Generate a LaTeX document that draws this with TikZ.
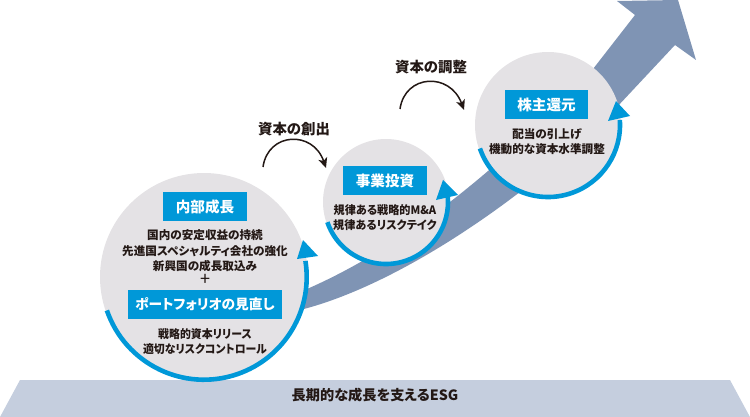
\documentclass[tikz,border=0pt]{standalone}
\usepackage{fontspec}
\usetikzlibrary{arrows.meta}
\newfontfamily\jp{Noto Sans CJK JP}[RawFeature=+palt]
\definecolor{bluemain}{HTML}{0098D8}
\definecolor{bandc}{HTML}{7F94B4}
\definecolor{basec}{HTML}{C5CEDE}
\definecolor{circc}{HTML}{E4E2E5}
\definecolor{inkc}{HTML}{231815}
\tikzset{
  disc/.style={circle,fill=circc,inner sep=0pt,minimum size=#1},
  tagbox/.style={fill=bluemain,text=white,inner sep=0pt,font=\jp\bfseries\fontsize{14.6}{15}\selectfont,minimum height=29pt},
  bodytext/.style={text=inkc,align=center,inner sep=0pt,font=\jp\bfseries\fontsize{11.6}{15.5}\selectfont},
  loopline/.style={draw=bluemain,line width=4.6pt},
  loophead/.style={fill=bluemain},
  bendline/.style={draw=inkc,line width=1.5pt,-{Stealth[length=10pt,width=9pt,inset=2.5pt]}},
  captext/.style={text=inkc,inner sep=0pt,font=\jp\bfseries\fontsize{14.4}{15}\selectfont}
}
\begin{document}
\begin{tikzpicture}[x=1pt,y=-1pt]
\useasboundingbox (0,0) rectangle (750,417);
% base
\fill[basec] (20,380) -- (730,380) -- (750,417) -- (0,417) -- cycle;
\node[text=inkc,inner sep=0pt,font=\jp\bfseries\fontsize{14.2}{15}\selectfont] (esg) at (375,395.5) {長期的な成長を支えるESG};
% growth arrow
\fill[bandc] (300,292) .. controls (400,250) and (500,170) .. (593,69)
  -- (635,15) -- (617,1) -- (678,0) -- (696,60) -- (675,45) -- (617,107)
  .. controls (530,195) and (400,285) .. (300,310) -- cycle;
% discs
\node[disc=208pt] (c1) at (204,277) {};
\node[disc=126pt] (c2) at (386,202) {};
\node[disc=146pt] (c3) at (548,125) {};
% loops
\draw[loopline] (c1.center) ++(161:102.7) arc[start angle=161,end angle=-9,radius=102.7];
\fill[loophead] (303,240) -- (318,256) -- (297,259) -- cycle;
\draw[loopline] (c2.center) ++(161:62) arc[start angle=161,end angle=-5,radius=62];
\fill[loophead] (443,180) -- (458,195) -- (436,200) -- cycle;
\draw[loopline] (c3.center) ++(161:72) arc[start angle=161,end angle=-4,radius=72];
\fill[loophead] (616,101) -- (630,116) -- (608,121) -- cycle;
% tags
\node[tagbox,minimum width=84pt] (t1) at (205,206.5) {内部成長};
\node[bodytext] (b1) at (205,251) {国内の安定収益の持続\\先進国スペシャルティ会社の強化\\新興国の成長取込み};
\node[text=inkc,inner sep=0pt,font=\jp\fontsize{18}{18}\selectfont] (plus) at (205,280) {+};
\node[tagbox,minimum width=154pt,font=\jp\bfseries\fontsize{13.7}{14}\selectfont] (t2) at (205,304.5) {ポートフォリオの見直し};
\node[bodytext,xscale=.94] (b2) at (205,341.5) {戦略的資本リリース\\適切なリスクコントロール};
\node[tagbox,minimum width=84pt] (t3) at (385,181) {事業投資};
\node[bodytext,xscale=.96] (b3) at (385,217.5) {規律ある戦略的M\&A\\規律あるリスクテイク};
\node[tagbox,minimum width=83pt] (t4) at (546.5,104.5) {株主還元};
\node[bodytext] (b4) at (547,141.5) {配当の引上げ\\機動的な資本水準調整};
% curved arrows
\node[captext] (l1) at (294,129) {資本の創出};
\node[captext] (l2) at (431,67) {資本の調整};
\coordinate (a1) at (263,167);
\coordinate (a2) at (326,168);
\coordinate (a3) at (400,109);
\coordinate (a4) at (464,110);
\draw[bendline] (a1) .. controls (268,132) and (313,130) .. (a2);
\draw[bendline] (a3) .. controls (405,74) and (450,72) .. (a4);
\end{tikzpicture}
\end{document}
